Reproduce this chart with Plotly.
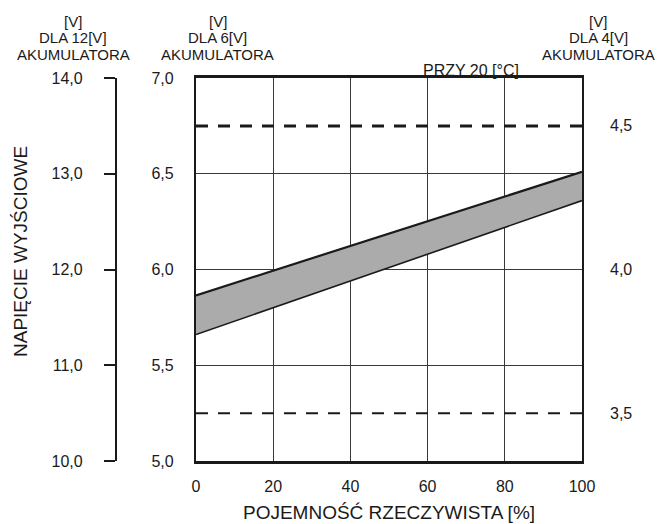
import plotly.graph_objects as go

# ---- data ----
capacity = [0, 100]                 # % (x)
upper_6v = [5.865, 6.51]            # upper boundary of band, 6 V scale
lower_6v = [5.66, 6.36]             # lower boundary of band, 6 V scale
x_ticks = [0, 20, 40, 60, 80, 100]
y6_ticks = [5.0, 5.5, 6.0, 6.5, 7.0]
y6_text = ["5,0", "5,5", "6,0", "6,5", "7,0"]
y12_ticks = [10.0, 11.0, 12.0, 13.0, 14.0]
y12_text = ["10,0", "11,0", "12,0", "13,0", "14,0"]
y4_ticks = [3.5, 4.0, 4.5]
y4_text = ["3,5", "4,0", "4,5"]
ref_4v = [4.5, 3.5]                 # dashed reference levels, 4 V scale

W, H = 662, 524
FONT = "Liberation Sans, Arial, sans-serif"
INK = "#1a1a1a"

def px(x):
    return x / W

def py(y):
    return 1 - y / H

fig = go.Figure()

# band
fig.add_trace(go.Scatter(x=capacity, y=lower_6v, mode="lines",
                         line=dict(color=INK, width=1.6), showlegend=False, hoverinfo="skip"))
fig.add_trace(go.Scatter(x=capacity, y=upper_6v, mode="lines", fill="tonexty",
                         fillcolor="#ababab",
                         line=dict(color=INK, width=2.2), showlegend=False, hoverinfo="skip"))

# dashed reference lines (4 V scale)
for lvl, w in zip(ref_4v, [3, 2]):
    fig.add_trace(go.Scatter(x=[x_ticks[0], x_ticks[-1]], y=[lvl, lvl], yaxis="y3", mode="lines",
                             line=dict(color=INK, width=w, dash="12px,10px"),
                             showlegend=False, hoverinfo="skip"))

# dummy to activate 12 V axis
fig.add_trace(go.Scatter(x=[None], y=[None], yaxis="y2", showlegend=False, hoverinfo="skip"))

dom_x = [px(196), px(582)]
dom_y = [py(461), py(78)]
tickfont = dict(family=FONT, size=16, color=INK)

fig.update_layout(
    width=W, height=H, autosize=False,
    margin=dict(l=0, r=0, t=0, b=0, pad=0, autoexpand=False),
    paper_bgcolor="white", plot_bgcolor="white",
    showlegend=False,
    xaxis=dict(domain=dom_x, range=[0, 100], tickvals=x_ticks, automargin=False,
               showgrid=True, gridcolor="#3a3a3a", gridwidth=1.2, zeroline=False,
               showline=True, linecolor=INK, linewidth=2.5, mirror=True,
               ticks="", ticklabelstandoff=9, tickfont=tickfont),
    yaxis=dict(domain=dom_y, range=[5, 7], tickvals=y6_ticks, ticktext=y6_text, automargin=False,
               showgrid=True, gridcolor="#3a3a3a", gridwidth=1.2, zeroline=False,
               showline=True, linecolor=INK, linewidth=2.2, mirror=True,
               ticks="", ticklabelstandoff=17, tickfont=tickfont),
    yaxis2=dict(overlaying="y", anchor="free", position=px(116), side="left", automargin=False,
                range=[10, 14], tickvals=y12_ticks, ticktext=y12_text,
                showgrid=False, zeroline=False,
                showline=True, linecolor=INK, linewidth=2.2,
                ticks="outside", ticklen=11, tickwidth=1.6, tickcolor=INK,
                ticklabelstandoff=18, tickfont=tickfont),
    yaxis3=dict(overlaying="y", anchor="x", side="right", automargin=False,
                range=[10 / 3, 14 / 3], tickvals=y4_ticks, ticktext=y4_text,
                showgrid=False, zeroline=False, showline=False,
                ticks="", ticklabelstandoff=27, tickfont=tickfont),
)

def ann(text, x, y, size=16, angle=0):
    fig.add_annotation(text=text, x=px(x), y=py(y), xref="paper", yref="paper",
                       xanchor="center", yanchor="middle", showarrow=False,
                       textangle=angle, font=dict(family=FONT, size=size, color=INK))

for cx, lbl in [(73, "DLA 12[V]"), (217.5, "DLA 6[V]"), (598, "DLA 4[V]")]:
    ann("[V]", cx, 21, size=15)
    ann(lbl, cx, 38, size=15)
    ann("AKUMULATORA", cx, 55, size=15)

ann("PRZY 20 [°C]", 471, 70.5, size=16)
ann("POJEMNOŚĆ RZECZYWISTA [%]", 389, 512, size=19)
ann("NAPIĘCIE WYJŚCIOWE", 20, 252, size=19, angle=-90)

fig.write_html("out.html")
